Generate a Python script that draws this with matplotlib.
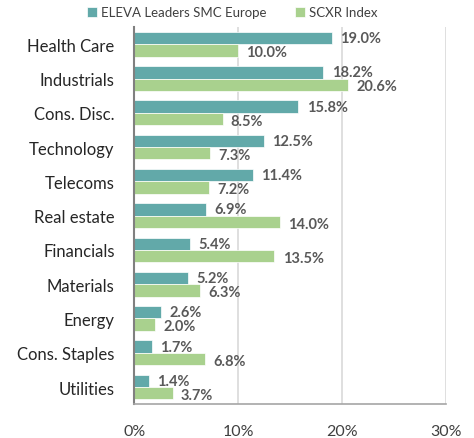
import matplotlib
matplotlib.use("Agg")
import matplotlib.pyplot as plt
import numpy as np

plt.rcParams['font.family'] = ['Lato', 'DejaVu Sans']

categories = ["Health Care", "Industrials", "Cons. Disc.", "Technology", "Telecoms",
              "Real estate", "Financials", "Materials", "Energy", "Cons. Staples", "Utilities"]
eleva = [19.0, 18.2, 15.8, 12.5, 11.4, 6.9, 5.4, 5.2, 2.6, 1.7, 1.4]
scxr = [10.0, 20.6, 8.5, 7.3, 7.2, 14.0, 13.5, 6.3, 2.0, 6.8, 3.7]
series_names = ["ELEVA Leaders SMC Europe", "SCXR Index"]
xticks = [0, 10, 20, 30]
xtick_labels = ["0%", "10%", "20%", "30%"]

c1 = "#62a9a9"
c2 = "#a9d18e"

fig = plt.figure(figsize=(4.74, 4.39), dpi=100)
ax = fig.add_axes([0.283, 0.077, 0.658, 0.859])

n = len(categories)
y = np.arange(n)
h = 0.36
ax.barh(y - h / 2, eleva, height=h, color=c1, label=series_names[0], edgecolor='white', linewidth=0.5)
ax.barh(y + h / 2, scxr, height=h, color=c2, label=series_names[1], edgecolor='white', linewidth=0.5)

for i in range(n):
    ax.text(eleva[i] + 0.8, y[i] - h / 2, f"{eleva[i]:.1f}%", va='center', ha='left',
            fontsize=10.5, fontweight='bold', color='#595959')
    ax.text(scxr[i] + 0.8, y[i] + h / 2 + 0.05, f"{scxr[i]:.1f}%", va='center', ha='left',
            fontsize=10.5, fontweight='bold', color='#595959')

ax.set_ylim(n - 0.5, -0.5)
ax.set_xlim(0, 30)
ax.set_yticks(y)
ax.set_yticklabels(categories, fontsize=12, color='#262626')
ax.set_xticks(xticks)
ax.set_xticklabels(xtick_labels, fontsize=11.5, color='#404040')
ax.tick_params(axis='y', length=0, pad=14)
ax.tick_params(axis='x', length=0, pad=14)
ax.grid(axis='x', color='#d9d9d9', linewidth=1.2)
ax.set_axisbelow(True)
for s in ['top', 'right']:
    ax.spines[s].set_visible(False)
ax.spines['left'].set_color('#808080')
ax.spines['left'].set_linewidth(1.5)
ax.spines['bottom'].set_color('#a6a6a6')
ax.spines['bottom'].set_linewidth(1.2)

fig.legend(loc='upper center', bbox_to_anchor=(0.49, 1.01), ncol=2, frameon=False,
           fontsize=9.5, handlelength=0.75, handleheight=0.75, columnspacing=2.2, handletextpad=0.3,
           labelcolor='#404040')

fig.savefig("out.png", dpi=100)
